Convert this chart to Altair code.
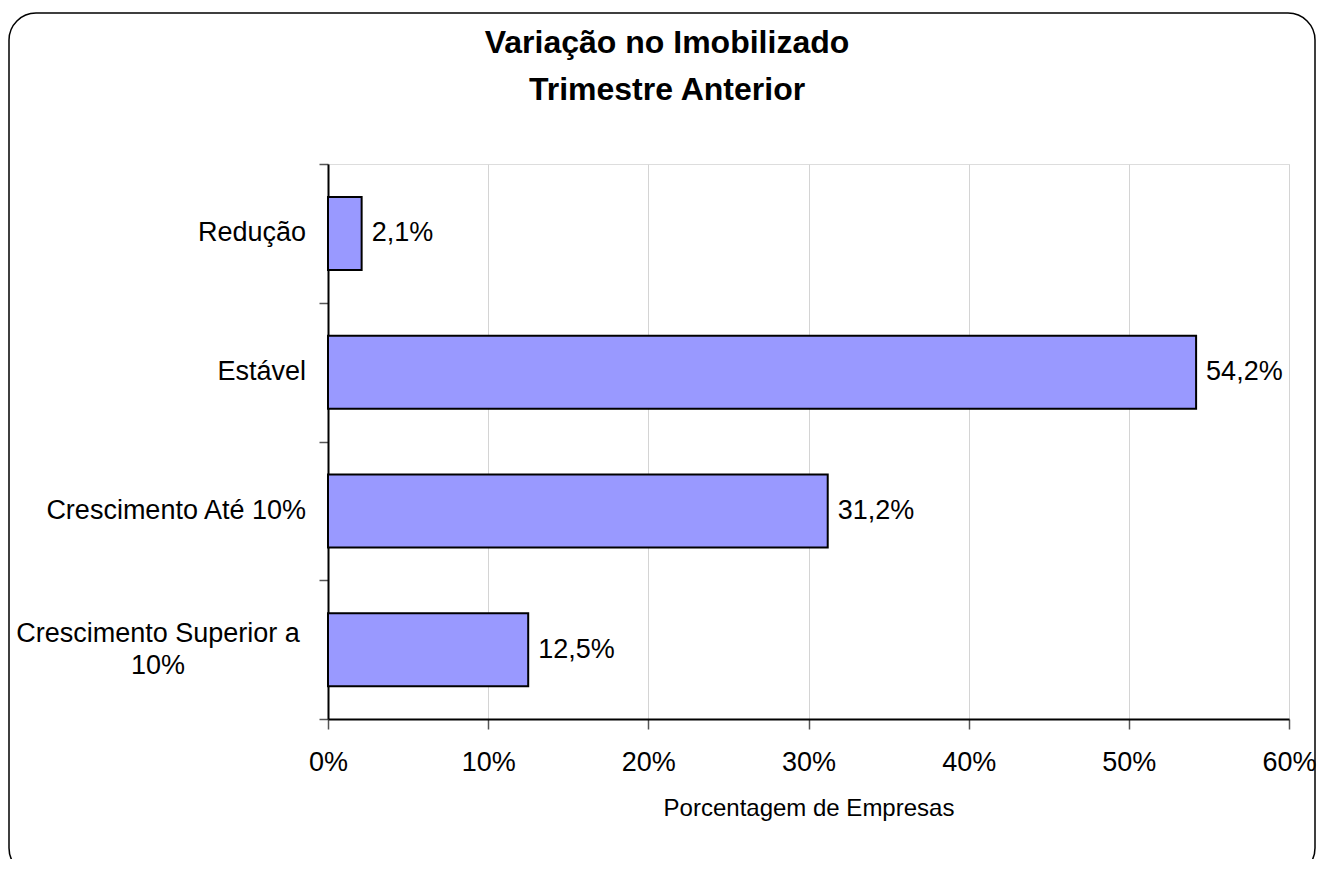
import altair as alt
import pandas as pd

categories = ["Redução", "Estável", "Crescimento Até 10%", "Crescimento Superior a 10%"]
values = [0.021, 0.542, 0.312, 0.125]
x_ticks = [0.0, 0.1, 0.2, 0.3, 0.4, 0.5, 0.6]
title_lines = ["Variação no Imobilizado", "Trimestre Anterior"]
wrapped_cat = "Crescimento Superior a 10%"
wrapped_lines = ["Crescimento Superior a", "10%"]

df = pd.DataFrame({"cat": categories, "val": values})
FONT = "Liberation Sans"

y_enc = alt.Y(
    "cat:N",
    sort=categories,
    title=None,
    scale=alt.Scale(paddingInner=0, paddingOuter=0),
    axis=alt.Axis(
        labels=False,
        tickBand="extent", tickSize=9, tickColor="#555555", tickWidth=1.5,
        domainColor="black", domainWidth=2, grid=False,
    ),
)
x_enc = alt.X(
    "val:Q",
    title="Porcentagem de Empresas",
    scale=alt.Scale(domain=[0, 0.6], nice=False),
    axis=alt.Axis(
        values=x_ticks, format=".0%", labelFlush=False,
        labelFont=FONT, labelFontSize=27, labelColor="black", labelPadding=20,
        tickSize=10, tickColor="#555555", tickWidth=1.5,
        domainColor="black", domainWidth=2,
        grid=True, gridColor="#d4d4d4", gridWidth=1,
        titleFont=FONT, titleFontSize=24, titleFontWeight="normal",
        titleColor="black", titlePadding=21,
    ),
)
y_plain = alt.Y("cat:N", sort=categories)

bars = alt.Chart(df).mark_bar(
    color="#9999FF", stroke="black", strokeWidth=2, size=73
).encode(x=x_enc, y=y_enc)

labels = alt.Chart(df).transform_calculate(
    lab="replace(format(datum.val * 100, '.1f'), '.', ',') + '%'"
).mark_text(
    align="left", baseline="middle", dx=10, font=FONT, fontSize=27, color="black"
).encode(x="val:Q", y=y_plain, text="lab:N")

cat_labels = alt.Chart(df).transform_filter(
    alt.datum.cat != wrapped_cat
).mark_text(
    align="right", baseline="middle", font=FONT, fontSize=27, color="black"
).encode(x=alt.value(-22), y=y_plain, text="cat:N")

cat_wrapped = alt.Chart(df).transform_filter(
    alt.datum.cat == wrapped_cat
).mark_text(
    text=wrapped_lines, align="center", baseline="middle", lineHeight=32,
    font=FONT, fontSize=27, color="black", dy=-16,
).encode(x=alt.value(-170), y=y_plain)

title = alt.Chart(pd.DataFrame({"k": [0]})).mark_text(
    text=title_lines, font=FONT, fontSize=32, fontWeight="bold", color="black",
    align="center", baseline="middle", lineHeight=47,
).encode(x=alt.value(339), y=alt.value(-121))

frame = alt.Chart(pd.DataFrame({"k": [0]})).mark_rect(
    filled=False, stroke="black", strokeWidth=1.5, cornerRadius=27
).encode(
    x=alt.value(-319), x2=alt.value(987),
    y=alt.value(-151), y2=alt.value(711),
)

chart = alt.layer(bars, labels, cat_labels, cat_wrapped, title, frame).properties(
    width=961, height=555,
    autosize=alt.AutoSizeParams(type="none"),
    padding={"left": 320, "top": 156, "right": 28, "bottom": 140},
).configure_view(stroke="black", strokeWidth=2).configure(background="white")

chart.save("out.html", embed_options={"renderer": "svg", "actions": False})
